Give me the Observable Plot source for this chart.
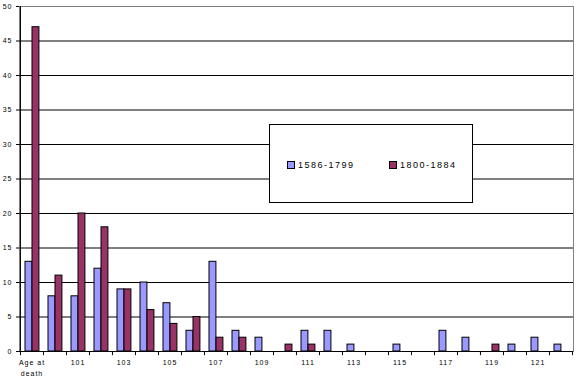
<!DOCTYPE html>
<html>
<head>
<meta charset="utf-8">
<script src="https://cdn.jsdelivr.net/npm/d3@7"></script>
<script src="https://cdn.jsdelivr.net/npm/@observablehq/plot@0.6"></script>
<style>
  html, body { margin: 0; padding: 0; background: #fff; }
  #wrap { position: relative; width: 576px; height: 379px; font-family: "Liberation Sans", Arial, sans-serif; }
  #legend { position: absolute; left: 269px; top: 124px; width: 204px; height: 79px; box-sizing: border-box;
            border: 1px solid #000; background: #fff; }
  .item { position: absolute; top: 35px; display: flex; align-items: center; font-size: 9px; letter-spacing: 1.5px; color: #000; }
  .sw { width: 6px; height: 6px; border: 1px solid #000; margin-right: 3px; }
</style>
</head>
<body>
<div id="wrap"></div>
<script>
const categories = ["Age at death","100","101","102","103","104","105","106","107","108","109","110",
  "111","112","113","114","115","116","117","118","119","120","121","122"];
const series1586 = [13,8,8,12,9,10,7,3,13,3,2,0,3,3,1,0,1,0,3,2,0,1,2,1];
const series1800 = [47,11,20,18,9,6,4,5,2,2,0,1,1,0,0,0,0,0,0,0,1,0,0,0];
const seriesNames = ["1586-1799","1800-1884"];
const seriesColors = ["#9999ff","#993366"];
const yTicks = [0,5,10,15,20,25,30,35,40,45,50];
const gridValues = [5,10,15,20,25,30,35,40,45];

const W = 576, H = 379, mL = 19, mR = 3, mT = 6, mB = 28;
const bw = (W - mL - mR) / categories.length;

const rows1 = categories.map((c, i) => ({cat: c, v: series1586[i]})).filter(d => d.v > 0);
const rows2 = categories.map((c, i) => ({cat: c, v: series1800[i]})).filter(d => d.v > 0);

const labelFor = d => {
  const i = categories.indexOf(d);
  if (i % 2 !== 0) return "";
  return d === "Age at death" ? "Age at\ndeath" : d;
};

const chart = Plot.plot({
  width: W, height: H,
  marginLeft: mL, marginRight: mR, marginTop: mT, marginBottom: mB,
  style: {fontFamily: '"Liberation Sans", Arial, sans-serif', fontSize: "7px", letterSpacing: "1px", color: "#000", background: "#fff", overflow: "visible"},
  x: {domain: categories, padding: 0, axis: null},
  y: {domain: [0, 50], axis: null},
  marks: [
    Plot.frame({stroke: "#808080"}),
    Plot.ruleY(gridValues, {stroke: "#000"}),
    Plot.barY(rows1, {x: "cat", y: "v", fill: seriesColors[0], stroke: "#000", strokeWidth: 1,
      insetLeft: 5, insetRight: bw - 12}),
    Plot.barY(rows2, {x: "cat", y: "v", fill: seriesColors[1], stroke: "#000", strokeWidth: 1,
      insetLeft: 12, insetRight: bw - 19}),
    Plot.ruleY([0], {stroke: "#000"}),
    Plot.ruleX([categories[0]], {x: d => d, dx: -bw / 2, stroke: "#000"}),
    Plot.ruleX(categories, {x: d => d, dx: -bw / 2, y1: 0, y2: -0.6, stroke: "#000"}),
    Plot.ruleX([categories[categories.length - 1]], {x: d => d, dx: bw / 2, y1: 0, y2: -0.6, stroke: "#000"}),
    Plot.axisY({ticks: yTicks, tickSize: 3, tickPadding: 4, tickFormat: d => String(d), label: null, fontSize: 7}),
    Plot.axisX({ticks: categories, tickSize: 0, tickPadding: 6, tickFormat: labelFor, label: null, lineHeight: 1.55, fontSize: 7})
  ]
});

const wrap = document.getElementById("wrap");
wrap.appendChild(chart);

const legend = document.createElement("div");
legend.id = "legend";
const lefts = [17, 119];
seriesNames.forEach((name, i) => {
  const item = document.createElement("div");
  item.className = "item";
  item.style.left = lefts[i] + "px";
  const sw = document.createElement("div");
  sw.className = "sw";
  sw.style.background = seriesColors[i];
  const t = document.createElement("span");
  t.textContent = name;
  item.appendChild(sw);
  item.appendChild(t);
  legend.appendChild(item);
});
wrap.appendChild(legend);
</script>
</body>
</html>
